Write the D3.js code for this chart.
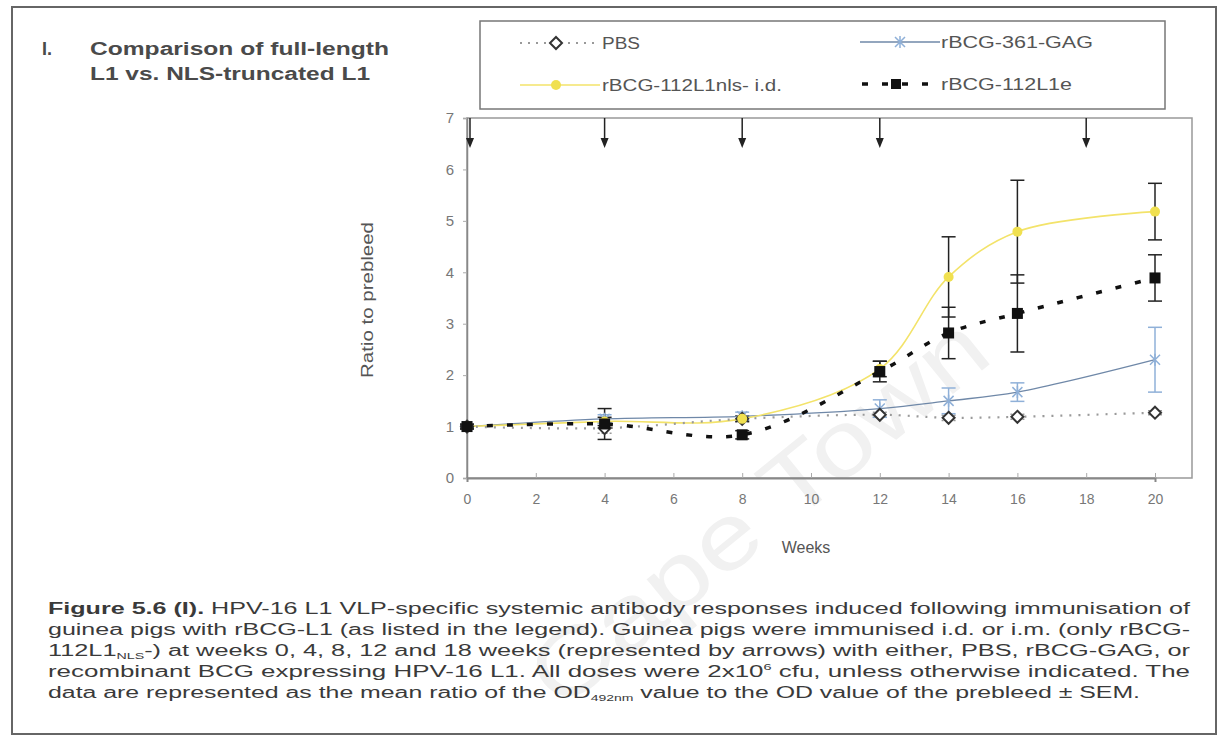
<!DOCTYPE html>
<html><head><meta charset="utf-8">
<script src="https://cdn.jsdelivr.net/npm/d3@7"></script>
<style>
html,body{margin:0;padding:0;background:#fff;}
svg{display:block;font-family:Arial,"Liberation Sans",sans-serif;}
</style></head>
<body>
<svg id="chart" width="1226" height="739"></svg>
<script>
// ---- data ----
const weeks = [0, 4, 8, 12, 14, 16, 20];
const pbs = [1.0, 0.97, 1.15, 1.23, 1.17, 1.19, 1.27];
const pbsErr = [0.03, 0.1, 0.06, 0.05, 0.05, 0.05, 0.04];
const gag = [1.0, 1.15, 1.2, 1.35, 1.5, 1.67, 2.3];
const gagErr = [0.03, 0.08, 0.08, 0.17, 0.25, 0.18, 0.63];
const nls = [1.0, 1.1, 1.15, 2.12, 3.91, 4.79, 5.18];
const nlsErr = [0.03, 0.08, 0.05, 0.15, 0.78, 1.0, 0.55];
const l1e = [1.0, 1.05, 0.84, 2.07, 2.82, 3.2, 3.89];
const l1eErr = [0.05, 0.3, 0.08, 0.2, 0.5, 0.75, 0.45];
const immunisationWeeks = [0, 4, 8, 12, 18];
const xTicks = [0, 2, 4, 6, 8, 10, 12, 14, 16, 18, 20];
const yTicks = [0, 1, 2, 3, 4, 5, 6, 7];
const seriesNames = ["PBS", "rBCG-361-GAG", "rBCG-112L1nls- i.d.", "rBCG-112L1e"];

const svg = d3.select("#chart");
const x = d3.scaleLinear().domain([0, 20]).range([467, 1155]);
const y = d3.scaleLinear().domain([0, 7]).range([478, 118]);

// outer frame
svg.append("rect").attr("x", 12).attr("y", 7).attr("width", 1204).attr("height", 727)
  .attr("fill", "none").attr("stroke", "#666").attr("stroke-width", 2);

// watermark
svg.append("text").attr("transform", "translate(560,712) rotate(-39)")
  .attr("font-size", 92).attr("fill", "#f1f1f1").attr("font-family", "Arial, sans-serif")
  .attr("textLength", 560).attr("lengthAdjust", "spacingAndGlyphs")
  .text("Cape Town");

// title
const title = svg.append("g").attr("font-weight", "bold").attr("font-size", 18).attr("fill", "#4a4a4a");
title.append("text").attr("x", 42).attr("y", 55).text("I.");
title.append("text").attr("x", 90).attr("y", 55).attr("textLength", 299).attr("lengthAdjust", "spacingAndGlyphs").text("Comparison of full-length");
title.append("text").attr("x", 90).attr("y", 80).attr("textLength", 280).attr("lengthAdjust", "spacingAndGlyphs").text("L1 vs. NLS-truncated L1");

// plot frame
svg.append("rect").attr("x", x(0)).attr("y", y(7)).attr("width", 1192 - x(0)).attr("height", y(0) - y(7))
  .attr("fill", "none").attr("stroke", "#999").attr("stroke-width", 1.5);

// axes
const xAxis = svg.append("g").attr("transform", `translate(0,${y(0)})`)
  .call(d3.axisBottom(x).tickValues(xTicks).tickSize(4).tickPadding(12).tickFormat(d3.format("d")));
xAxis.select(".domain").attr("stroke", "#888").attr("stroke-width", 2);
xAxis.selectAll(".tick line").attr("stroke", "#aaa").attr("y2", -5);
xAxis.selectAll("text").attr("font-size", 14).attr("fill", "#777").attr("font-family", "Arial, sans-serif");

const yAxis = svg.append("g").attr("transform", `translate(${x(0)},0)`)
  .call(d3.axisLeft(y).tickValues(yTicks).tickSize(4).tickPadding(9).tickFormat(d3.format("d")));
yAxis.select(".domain").attr("stroke", "#888").attr("stroke-width", 1.5);
yAxis.selectAll(".tick line").attr("stroke", "#aaa");
yAxis.selectAll("text").attr("font-size", 15).attr("fill", "#777").attr("font-family", "Arial, sans-serif");

svg.append("text").attr("transform", `translate(373,300) rotate(-90)`).attr("text-anchor", "middle")
  .attr("font-size", 16).attr("fill", "#555").attr("textLength", 156).attr("lengthAdjust", "spacingAndGlyphs").text("Ratio to prebleed");
svg.append("text").attr("x", 806).attr("y", 553).attr("text-anchor", "middle")
  .attr("font-size", 16).attr("fill", "#555").text("Weeks");

// arrows
const arrows = svg.append("g");
immunisationWeeks.forEach(w => {
  const ax = x(w) + (w === 0 ? 3 : 0);
  arrows.append("line").attr("x1", ax).attr("x2", ax).attr("y1", y(7)).attr("y2", 140)
    .attr("stroke", "#222").attr("stroke-width", 1.5);
  arrows.append("path").attr("d", `M${ax - 4},138 L${ax + 4},138 L${ax},148 Z`).attr("fill", "#222");
});

const line = d3.line().x((d, i) => x(weeks[i])).y(d => y(d)).curve(d3.curveCatmullRom.alpha(0.5));

function errBars(vals, errs, color, width, dash) {
  const g = svg.append("g").attr("stroke", color).attr("stroke-width", width);
  vals.forEach((v, i) => {
    const cx = x(weeks[i]);
    g.append("line").attr("x1", cx).attr("x2", cx).attr("y1", y(v + errs[i])).attr("y2", y(v - errs[i]))
      .attr("stroke-dasharray", dash || null);
    [v + errs[i], v - errs[i]].forEach(e => {
      g.append("line").attr("x1", cx - 7).attr("x2", cx + 7).attr("y1", y(e)).attr("y2", y(e))
        .attr("stroke-dasharray", dash || null);
    });
  });
}

// error bars
errBars(pbs, pbsErr, "#999", 1.5, "2,2");
errBars(gag, gagErr, "#8fb0d8", 1.5);
errBars(nls, nlsErr, "#222", 1.5);
errBars(l1e, l1eErr, "#222", 1.5);

// lines
svg.append("path").datum(gag).attr("d", line).attr("fill", "none").attr("stroke", "#6f88a8").attr("stroke-width", 1.3);
svg.append("path").datum(nls).attr("d", line).attr("fill", "none").attr("stroke", "#f3e36a").attr("stroke-width", 1.6);
svg.append("path").datum(pbs).attr("d", line).attr("fill", "none").attr("stroke", "#9a9a9a").attr("stroke-width", 2.2).attr("stroke-dasharray", "2,7");
svg.append("path").datum(l1e).attr("d", line).attr("fill", "none").attr("stroke", "#111").attr("stroke-width", 3.5).attr("stroke-dasharray", "6,14");

// markers
function diamond(g, cx, cy) {
  g.append("path").attr("d", `M${cx},${cy - 6} L${cx + 6},${cy} L${cx},${cy + 6} L${cx - 6},${cy} Z`)
    .attr("fill", "#fff").attr("stroke", "#333").attr("stroke-width", 2);
}
function star(g, cx, cy, color) {
  g.append("path").attr("d", `M${cx - 5},${cy - 5} L${cx + 5},${cy + 5} M${cx - 5},${cy + 5} L${cx + 5},${cy - 5} M${cx},${cy - 6} L${cx},${cy + 6}`)
    .attr("stroke", color).attr("stroke-width", 1.5).attr("fill", "none");
}
const mk = svg.append("g");
gag.forEach((v, i) => star(mk, x(weeks[i]), y(v), "#8fb0d8"));
pbs.forEach((v, i) => diamond(mk, x(weeks[i]), y(v)));
nls.forEach((v, i) => mk.append("circle").attr("cx", x(weeks[i])).attr("cy", y(v)).attr("r", 5).attr("fill", "#f0e050"));
l1e.forEach((v, i) => mk.append("rect").attr("x", x(weeks[i]) - 5.5).attr("y", y(v) - 5.5).attr("width", 11).attr("height", 11).attr("fill", "#111"));

// legend
const lg = svg.append("g");
lg.append("rect").attr("x", 480).attr("y", 21).attr("width", 685).attr("height", 88)
  .attr("fill", "#fff").attr("stroke", "#777").attr("stroke-width", 1.5);
const lt = (tx, ty, s, w) => lg.append("text").attr("x", tx).attr("y", ty).attr("font-size", 16).attr("fill", "#555")
  .attr("textLength", w).attr("lengthAdjust", "spacingAndGlyphs").text(s);
// PBS
lg.append("line").attr("x1", 520).attr("x2", 600).attr("y1", 43).attr("y2", 43).attr("stroke", "#999").attr("stroke-width", 2.2).attr("stroke-dasharray", "2,6");
diamond(lg, 556, 43);
lt(602, 49, seriesNames[0], 38);
// NLS
lg.append("line").attr("x1", 520).attr("x2", 600).attr("y1", 85).attr("y2", 85).attr("stroke", "#f3e36a").attr("stroke-width", 1.6);
lg.append("circle").attr("cx", 556).attr("cy", 85).attr("r", 5).attr("fill", "#f0e050");
lt(602, 91, seriesNames[2], 180);
// GAG
lg.append("line").attr("x1", 860).attr("x2", 940).attr("y1", 42).attr("y2", 42).attr("stroke", "#6f88a8").attr("stroke-width", 1.3);
star(lg, 900, 42, "#8fb0d8");
lt(941, 48, seriesNames[1], 152);
// L1e
lg.append("line").attr("x1", 862).attr("x2", 940).attr("y1", 84).attr("y2", 84).attr("stroke", "#111").attr("stroke-width", 3.5).attr("stroke-dasharray", "6,14");
lg.append("rect").attr("x", 891).attr("y", 79).attr("width", 10).attr("height", 10).attr("fill", "#111");
lt(941, 90, seriesNames[3], 131);

// caption
const cap = svg.append("g").attr("font-size", 16).attr("fill", "#3a3a3a");
const capLine = (yy, w) => cap.append("text").attr("x", 48).attr("y", yy).attr("textLength", w).attr("lengthAdjust", "spacingAndGlyphs");
const c1 = capLine(614, 1142);
c1.append("tspan").attr("font-weight", "bold").text("Figure 5.6 (I).");
c1.append("tspan").text("  HPV-16 L1 VLP-specific systemic antibody responses induced following immunisation of");
capLine(635, 1142).text("guinea pigs with rBCG-L1 (as listed in the legend).  Guinea pigs were immunised i.d. or i.m. (only rBCG-");
const c3 = capLine(656, 1142);
c3.append("tspan").text("112L1");
c3.append("tspan").attr("font-size", 9).attr("dy", 3).text("NLS");
c3.append("tspan").attr("dy", -3).text("-) at weeks 0, 4, 8, 12 and 18 weeks (represented by arrows) with either, PBS, rBCG-GAG, or");
const c4 = capLine(677, 1142);
c4.append("tspan").text("recombinant BCG expressing HPV-16 L1.  All doses were 2x10");
c4.append("tspan").attr("font-size", 9).attr("dy", -7).text("6");
c4.append("tspan").attr("dy", 7).text(" cfu, unless otherwise indicated.  The");
const c5 = capLine(698, 1092);
c5.append("tspan").text("data are represented as the mean ratio of the OD");
c5.append("tspan").attr("font-size", 9).attr("dy", 3).text("492nm");
c5.append("tspan").attr("dy", -3).text(" value to the OD value of the prebleed ± SEM.");
</script>
</body></html>
